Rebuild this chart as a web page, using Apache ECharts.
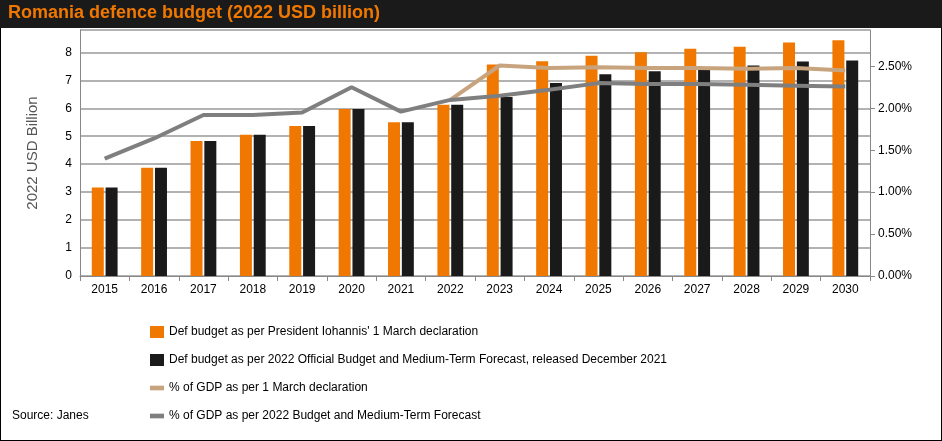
<!DOCTYPE html><html><head><meta charset="utf-8"><script src="https://cdn.jsdelivr.net/npm/echarts@6/dist/echarts.min.js"></script>
<style>body{margin:0}#c{width:942px;height:441px}</style></head><body><div id="c"></div><script>
const years=['2015','2016','2017','2018','2019','2020','2021','2022','2023','2024','2025','2026','2027','2028','2029','2030'];
const presidentBudget=[3.17,3.87,4.83,5.05,5.37,5.97,5.5,6.13,7.57,7.68,7.88,8.0,8.13,8.2,8.35,8.43];
const officialBudget=[3.17,3.87,4.83,5.05,5.37,5.97,5.5,6.13,6.4,6.9,7.22,7.32,7.37,7.53,7.67,7.71];
const gdpMarch=[null,null,null,null,null,null,null,2.10,2.51,2.48,2.49,2.48,2.48,2.47,2.48,2.45];
const gdpOfficial=[1.40,1.64,1.92,1.92,1.95,2.25,1.96,2.10,2.15,2.22,2.30,2.29,2.29,2.28,2.27,2.26];
const names=["Def budget as per President Iohannis' 1 March declaration","Def budget as per 2022 Official Budget and Medium-Term Forecast, released December 2021","% of GDP as per 1 March declaration","% of GDP as per 2022 Budget and Medium-Term Forecast"];
const c=echarts.init(document.getElementById('c'));
const ff='Liberation Sans, Arial';
const lineIcon='path://M0,0H12V4H0Z';
c.setOption({
 textStyle:{fontFamily:ff},
 graphic:[
  {type:'rect',shape:{x:0,y:0,width:942,height:441},style:{fill:'#fff',stroke:'#000',lineWidth:2},z:-10},
  {type:'rect',shape:{x:0,y:0,width:942,height:28},style:{fill:'#1a1a1a'},z:-9},
  {type:'text',left:8,top:4,style:{text:'Romania defence budget (2022 USD billion)',fill:'#f07800',font:'bold 18px '+ff}},
  {type:'text',left:12,top:410,style:{text:'Source: Janes',fill:'#000',font:'12px '+ff}}
 ],
 legend:{orient:'vertical',left:145,top:321,itemGap:16,itemWidth:14,itemHeight:12,textStyle:{fontSize:12,color:'#000'},
  data:[{name:names[0],icon:'rect'},{name:names[1],icon:'rect'},{name:names[2],icon:lineIcon,itemStyle:{color:'#c8a47e'}},{name:names[3],icon:lineIcon,itemStyle:{color:'#7f7f7f'}}]},
 grid:{left:80,right:72,top:30,bottom:165},
 xAxis:{type:'category',data:years,axisLine:{lineStyle:{color:'#888'}},axisTick:{show:true,lineStyle:{color:'#888'}},axisLabel:{color:'#000',fontSize:12}},
 yAxis:[{type:'value',min:0,max:8.8,interval:1,name:'2022 USD Billion',nameLocation:'middle',nameGap:40,nameTextStyle:{fontSize:15,color:'#555'},
   axisLabel:{color:'#000',fontSize:12,showMaxLabel:false},axisLine:{show:true,lineStyle:{color:'#888'}},splitLine:{lineStyle:{color:'#999',width:1.5}}},
  {type:'value',min:0,max:8.8/3,interval:0.5,axisLabel:{color:'#000',fontSize:12,showMaxLabel:false,formatter:v=>v.toFixed(2)+'%'},axisLine:{show:true,lineStyle:{color:'#888'}},axisTick:{show:true},splitLine:{show:false}}],
 series:[
  {name:names[0],type:'bar',data:presidentBudget,barWidth:12,barGap:'15%',itemStyle:{color:'#f07800'}},
  {name:names[1],type:'bar',data:officialBudget,barWidth:12,itemStyle:{color:'#1a1a1a'}},
  {name:names[2],type:'line',yAxisIndex:1,data:gdpMarch,symbol:'none',lineStyle:{color:'#c8a47e',width:4},itemStyle:{color:'#c8a47e'}},
  {name:names[3],type:'line',yAxisIndex:1,data:gdpOfficial,symbol:'none',lineStyle:{color:'#7f7f7f',width:4},itemStyle:{color:'#7f7f7f'}}
 ]
});
</script></body></html>
